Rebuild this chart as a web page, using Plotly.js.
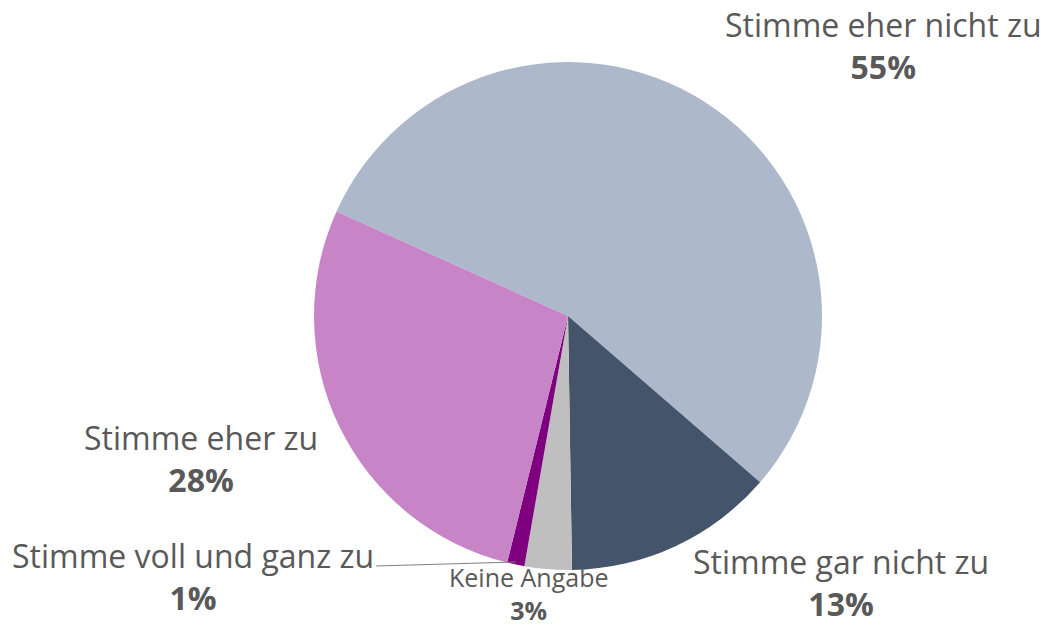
<!DOCTYPE html>
<html>
<head>
<meta charset="utf-8">
<script src="https://cdn.plot.ly/plotly-3.0.1.min.js"></script>
<style>html,body{margin:0;padding:0;background:#fff;}#chart{width:1044px;height:626px;}</style>
</head>
<body>
<div id="chart"></div>
<script>
const categories = ["Stimme eher nicht zu", "Stimme gar nicht zu", "Keine Angabe", "Stimme voll und ganz zu", "Stimme eher zu"];
const values = [54.6, 13.4, 3.0, 1.1, 27.9];
const colors = ["#adb8ca", "#44546a", "#bfbfbf", "#7f007f", "#c785c8"];

// label placement (pixel centre of the two-line label block)
const labelPos = [
  {x: 883, y: 46, size: 32},
  {x: 841, y: 582, size: 32},
  {x: 528, y: 593, size: 25},
  {x: 193, y: 576, size: 32},
  {x: 201, y: 458, size: 32}
];

const W = 1044, H = 626;
const total = values.reduce((a, b) => a + b, 0);
const annotations = categories.map((c, i) => {
  const p = labelPos[i];
  return {xref: 'paper', yref: 'paper', x: p.x / W, y: 1 - p.y / H, xanchor: 'center', yanchor: 'middle',
    text: c + '<br><b>' + Math.round(values[i] / total * 100) + '%</b>', showarrow: false,
    align: 'center', font: {family: 'Open Sans', size: p.size, color: '#595959'}};
});

const cx = 568, cy = 316, r = 254;
const data = [{
  type: 'pie',
  labels: categories,
  values: values,
  sort: false,
  direction: 'clockwise',
  rotation: -65.7,
  marker: {colors: colors, line: {width: 0}},
  textinfo: 'none',
  hoverinfo: 'label+percent',
  showlegend: false,
  domain: {x: [(cx - r) / W, (cx + r) / W], y: [1 - (cy + r) / H, 1 - (cy - r) / H]}
}];

const layout = {
  width: W, height: H,
  margin: {l: 0, r: 0, t: 0, b: 0},
  paper_bgcolor: '#ffffff',
  showlegend: false,
  annotations: annotations,
  shapes: [{type: 'line', xref: 'paper', yref: 'paper', x0: 376 / W, y0: 1 - 566 / H, x1: 516 / W, y1: 1 - 562 / H,
    line: {color: '#7f7f7f', width: 1}}]
};

Plotly.newPlot('chart', data, layout, {displayModeBar: false, staticPlot: true});
</script>
</body>
</html>
